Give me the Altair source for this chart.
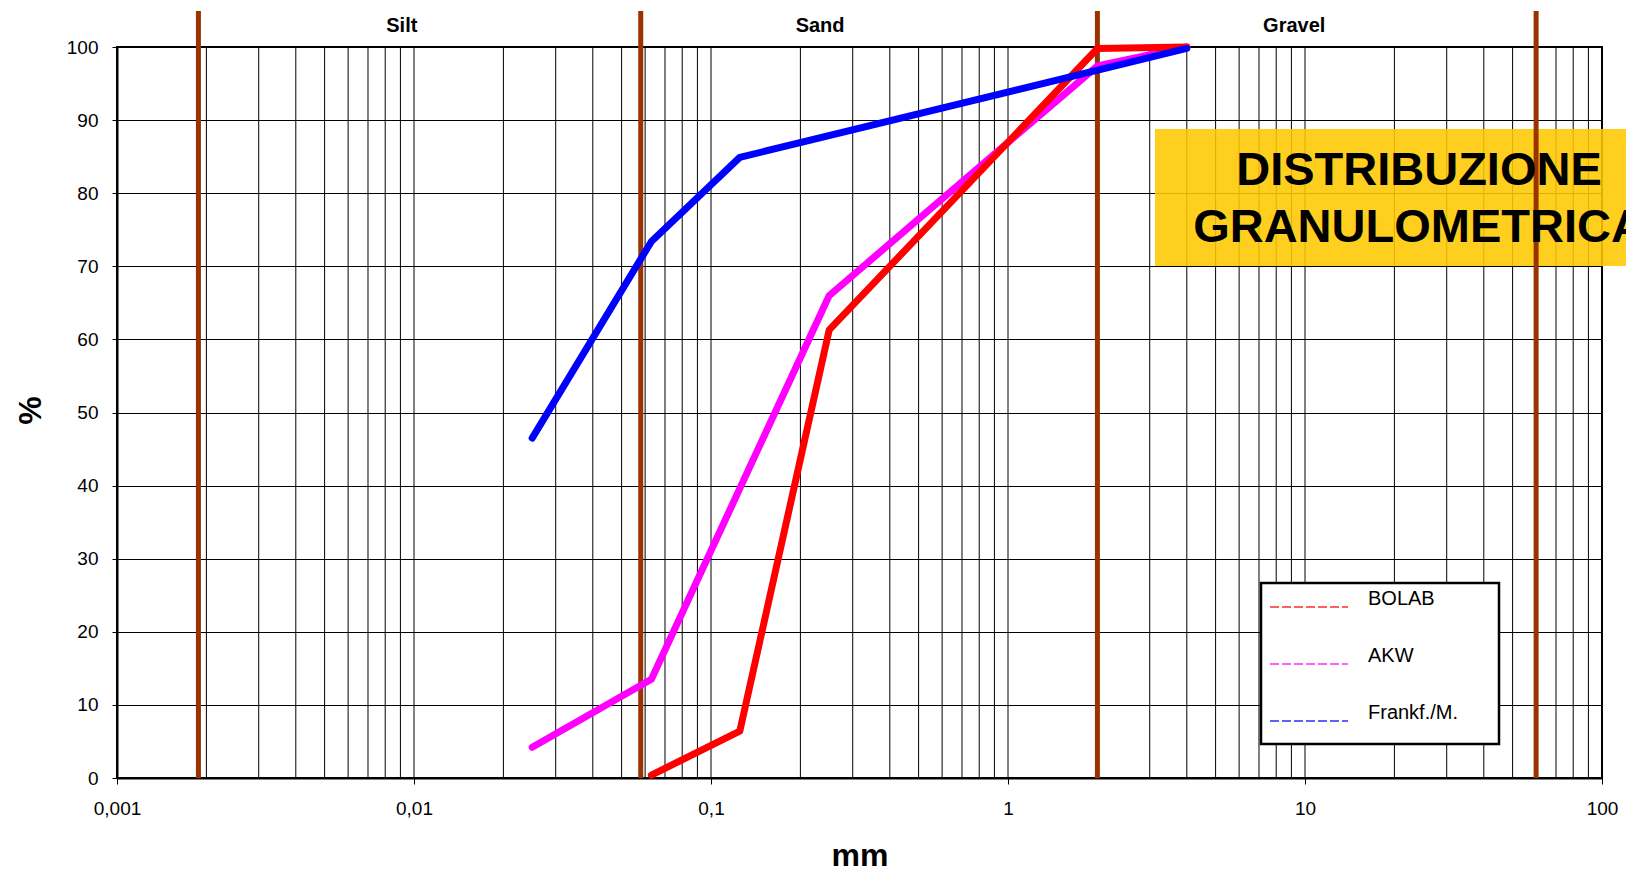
import altair as alt
import pandas as pd

FONT = "Liberation Sans, Arial, sans-serif"

# ---------------- data ----------------
series_names = ["BOLAB", "AKW", "Frankf./M."]
series_colors = ["#FF0000", "#FF00FF", "#0000FF"]
legend_colors = ["#FF6060", "#FF60FF", "#6060FF"]

bolab_mm = [0.063, 0.125, 0.25, 2, 4]
bolab_pct = [0.4, 6.4, 61.3, 99.8, 100]
akw_mm = [0.025, 0.063, 0.25, 2, 4]
akw_pct = [4.2, 13.5, 66.0, 97.4, 100]
frank_mm = [0.025, 0.063, 0.125, 4]
frank_pct = [46.5, 73.4, 84.9, 99.8]

boundaries_mm = [0.00188, 0.058, 2, 60]
region_names = ["Silt", "Sand", "Gravel"]
region_label_mm = [0.0091, 0.233, 9.2]

x_tick_values = [0.001, 0.01, 0.1, 1, 10, 100]
x_tick_labels = ["0,001", "0,01", "0,1", "1", "10", "100"]
y_tick_values = list(range(0, 101, 10))
grid_mm = [round(k * d, 6) for d in [0.001, 0.01, 0.1, 1, 10] for k in range(1, 10)] + [100]

title_lines = ["DISTRIBUZIONE", "GRANULOMETRICA"]

W, H = 1485, 731

label_expr = " : ".join(
    f"datum.value == {v} ? '{l}'" for v, l in zip(x_tick_values, x_tick_labels)
) + " : ''"

x_enc = alt.X(
    "mm:Q",
    scale=alt.Scale(type="log", domain=[0.001, 100], nice=False),
    axis=alt.Axis(
        values=x_tick_values,
        labelExpr=label_expr,
        grid=False,
        ticks=True,
        tickSize=6,
        tickColor="black",
        tickWidth=1,
        domainColor="black",
        domainWidth=2,
        labelFont=FONT,
        labelFontSize=19,
        labelColor="black",
        labelPadding=15,
        labelFlush=False,
        labelOverlap=False,
        title="mm",
        titleFont=FONT,
        titleFontSize=32,
        titleFontWeight="bold",
        titleColor="black",
        titleY=87,
        titleBaseline="alphabetic",
    ),
)

y_enc = alt.Y(
    "pct:Q",
    scale=alt.Scale(domain=[0, 100], nice=False),
    axis=alt.Axis(
        values=y_tick_values,
        grid=True,
        gridColor="black",
        gridWidth=1,
        gridOpacity=1,
        ticks=True,
        tickSize=5,
        tickColor="black",
        domainColor="black",
        domainWidth=2,
        labelFont=FONT,
        labelFontSize=19,
        labelColor="black",
        labelPadding=14,
        labelFlush=False,
        title="%",
        titleFont=FONT,
        titleFontSize=32,
        titleFontWeight="bold",
        titleColor="black",
        titleAngle=270,
        titleX=-87,
        titleY=363,
        titleAlign="center",
        titleBaseline="middle",
    ),
)

# vertical log grid
grid = alt.Chart(pd.DataFrame({"mm": grid_mm})).mark_rule(
    color="black", strokeWidth=1
).encode(x=x_enc)

# title box
box = alt.Chart(pd.DataFrame({"a": [0]})).mark_rect(
    fill="#FFC800", fillOpacity=0.88
).encode(
    x=alt.value(1038), x2=alt.value(1530), y=alt.value(82), y2=alt.value(219)
)

# boundaries
bounds = alt.Chart(pd.DataFrame({"mm": boundaries_mm})).mark_rule(
    color="#993300", strokeWidth=5
).encode(x=x_enc, y=alt.value(-36), y2=alt.value(H))

regions = alt.Chart(
    pd.DataFrame({"mm": region_label_mm, "name": region_names})
).mark_text(
    font=FONT, fontSize=20, fontWeight="bold", color="black",
    baseline="alphabetic", align="center"
).encode(x=x_enc, y=alt.value(-15), text="name:N")

series_data = [
    (bolab_mm, bolab_pct),
    (akw_mm, akw_pct),
    (frank_mm, frank_pct),
]

curves = []
for idx in [1, 0, 2]:  # AKW below, BOLAB, Frankfurt on top
    mm, pct = series_data[idx]
    df = pd.DataFrame({"mm": mm, "pct": pct})
    curves.append(
        alt.Chart(df).mark_line(
            color=series_colors[idx], strokeWidth=7,
            strokeCap="round", strokeJoin="round"
        ).encode(x=x_enc, y=y_enc)
    )

# legend
legend_layers = [
    alt.Chart(pd.DataFrame({"a": [0]})).mark_rect(
        fill="white", stroke="black", strokeWidth=2.5
    ).encode(x=alt.value(1144), x2=alt.value(1382), y=alt.value(536), y2=alt.value(697))
]
for i, (name, col) in enumerate(zip(series_names, legend_colors)):
    yy = 560 + i * 57
    one = pd.DataFrame({"name": [name]})
    legend_layers.append(
        alt.Chart(one).mark_rule(color=col, strokeWidth=2, strokeDash=[9, 3]).encode(
            x=alt.value(1153), x2=alt.value(1231), y=alt.value(yy)
        )
    )
    legend_layers.append(
        alt.Chart(one).mark_text(
            font=FONT, fontSize=20, color="black", align="left", baseline="alphabetic"
        ).encode(x=alt.value(1251), y=alt.value(yy - 2), text="name:N")
    )

title_layers = []
for i, line in enumerate(title_lines):
    title_layers.append(
        alt.Chart(pd.DataFrame({"t": [line]})).mark_text(
            font=FONT, fontSize=47, fontWeight="bold", color="black",
            align="center", baseline="alphabetic"
        ).encode(x=alt.value(1302), y=alt.value(138 + i * 57), text="t:N")
    )

chart = alt.layer(
    grid, box, bounds, regions, *curves, *legend_layers, *title_layers
).properties(
    width=W, height=H,
    padding={"left": 117, "top": 47, "right": 24, "bottom": 91},
    autosize=alt.AutoSizeParams(type="none"),
    background="white",
).configure_view(stroke="black", strokeWidth=2)

chart.save("out.html", embed_options={"renderer": "svg", "actions": False})
